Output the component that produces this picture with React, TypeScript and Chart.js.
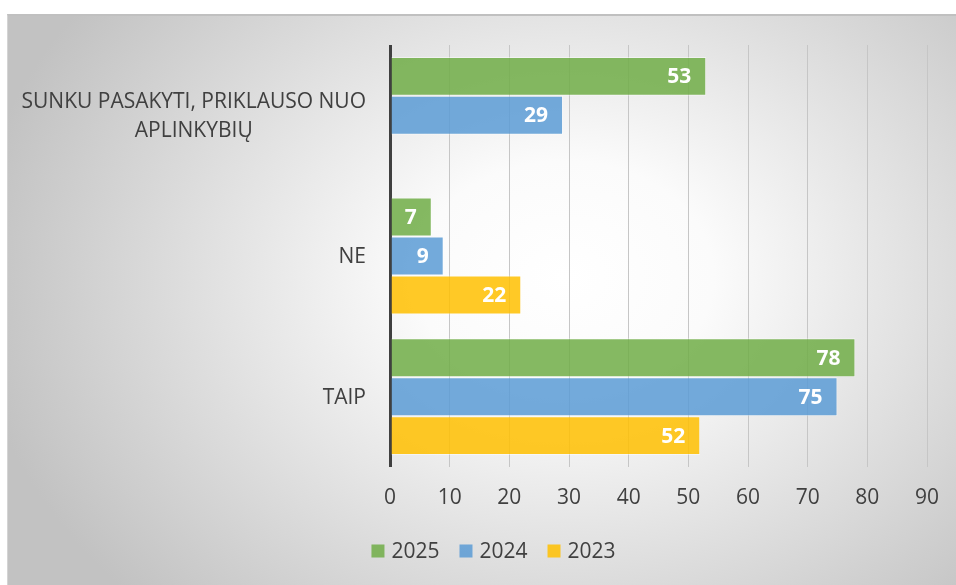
import React, { useEffect, useRef } from "react";
import { Chart, registerables } from "chart.js";

Chart.register(...registerables);

const categories: (string | string[])[] = [
  ["SUNKU PASAKYTI, PRIKLAUSO NUO", "APLINKYBIŲ"],
  "NE",
  "TAIP",
];
const seriesNames = ["2025", "2024", "2023"];
const values2025: (number | null)[] = [53, 7, 78];
const values2024: (number | null)[] = [29, 9, 75];
const values2023: (number | null)[] = [null, 22, 52];
const xTicks = [0, 10, 20, 30, 40, 50, 60, 70, 80, 90];

const colors = [
  "rgba(112,173,71,0.85)",
  "rgba(91,155,213,0.85)",
  "rgba(255,192,0,0.85)",
];
const FONT = "'Open Sans', 'Noto Sans', sans-serif";
const TEXT = "#404040";

const labelPlugin = {
  id: "customLabels",
  afterDatasetsDraw(chart: any) {
    const ctx = chart.ctx;
    ctx.save();
    // data labels
    ctx.font = `bold 21px ${FONT}`;
    ctx.fillStyle = "#ffffff";
    ctx.textAlign = "right";
    ctx.textBaseline = "middle";
    chart.data.datasets.forEach((ds: any, di: number) => {
      const meta = chart.getDatasetMeta(di);
      meta.data.forEach((el: any, i: number) => {
        const v = ds.data[i];
        if (v === null || v === undefined) return;
        ctx.fillText(String(v), el.x - 15, el.y + 1);
      });
    });
    // category labels
    const y = chart.scales.y;
    const right = 366;
    ctx.font = `21px ${FONT}`;
    ctx.fillStyle = TEXT;
    categories.forEach((lab, i) => {
      const cy = y.getPixelForValue(i);
      if (Array.isArray(lab)) {
        const lh = 29;
        const widest = Math.max(...lab.map((l) => ctx.measureText(l).width));
        const cx = right - widest / 2;
        ctx.textAlign = "center";
        lab.forEach((l, k) => {
          ctx.fillText(l, cx, cy + 1 + (k - (lab.length - 1) / 2) * lh);
        });
      } else {
        ctx.textAlign = "right";
        ctx.fillText(lab, right, cy + 1);
      }
    });
    // legend
    ctx.font = `21px ${FONT}`;
    const box = 13;
    const gapText = 7;
    const gapItem = 20;
    const widths = seriesNames.map((n) => ctx.measureText(n).width);
    const total =
      widths.reduce((a, b) => a + b, 0) +
      seriesNames.length * (box + gapText) +
      (seriesNames.length - 1) * gapItem;
    let x = 493.5 - total / 2;
    const ly = 551;
    ctx.textAlign = "left";
    seriesNames.forEach((n, i) => {
      ctx.fillStyle = colors[i];
      ctx.fillRect(x, ly - box / 2, box, box);
      ctx.fillStyle = TEXT;
      ctx.fillText(n, x + box + gapText, ly + 1);
      x += box + gapText + widths[i] + gapItem;
    });
    ctx.restore();
  },
};

export default function App() {
  const ref = useRef<HTMLCanvasElement>(null);
  useEffect(() => {
    if (!ref.current) return;
    const chart = new Chart(ref.current, {
      type: "bar",
      data: {
        labels: categories.map((c) => (Array.isArray(c) ? c.join(" ") : c)),
        datasets: [values2025, values2024, values2023].map((d, i) => ({
          label: seriesNames[i],
          data: d,
          backgroundColor: colors[i],
          borderColor: "rgba(255,255,255,0.45)",
          borderWidth: 1,
          categoryPercentage: 0.83,
          barPercentage: 1,
        })),
      },
      options: {
        indexAxis: "y",
        responsive: false,
        animation: false,
        layout: { padding: { left: 390, top: 45, right: 29, bottom: 0 } },
        plugins: { legend: { display: false }, tooltip: { enabled: false } },
        scales: {
          x: {
            min: 0,
            max: 90,
            afterBuildTicks: (s: any) => {
              s.ticks = xTicks.map((v) => ({ value: v }));
            },
            afterFit: (s: any) => {
              s.height = 118;
              s.paddingRight = 0;
              s.paddingLeft = 0;
            },
            ticks: {
              font: { family: FONT, size: 21 },
              color: TEXT,
              padding: 18,
            },
            grid: {
              drawTicks: false,
              color: (c: any) => (c.tick && c.tick.value === 0 ? "#404040" : "#c6c6c6"),
              lineWidth: (c: any) => (c.tick && c.tick.value === 0 ? 3 : 1),
            },
            border: { display: false },
          },
          y: {
            ticks: { display: false },
            grid: { display: false },
            border: { display: false },
            afterFit: (s: any) => {
              s.width = 0;
            },
          },
        },
      },
      plugins: [labelPlugin],
    } as any);
    return () => chart.destroy();
  }, []);
  return (
    <div style={{ position: "absolute", left: 0, top: 0, width: 956, height: 585, background: "#ffffff", overflow: "hidden" }}>
      <div
        style={{
          position: "absolute",
          left: 7,
          top: 14,
          width: 960,
          height: 580,
          borderTop: "2px solid #c0c0c0",
          borderLeft: "1px solid #d4d4d4",
          background:
            "radial-gradient(ellipse 62% 80% at 58% 45%, #ffffff 0%, #fbfbfb 25%, #c2c2c2 100%)",
        }}
      />
      <canvas ref={ref} width={956} height={585} style={{ position: "absolute", left: 0, top: 0 }} />
    </div>
  );
}
